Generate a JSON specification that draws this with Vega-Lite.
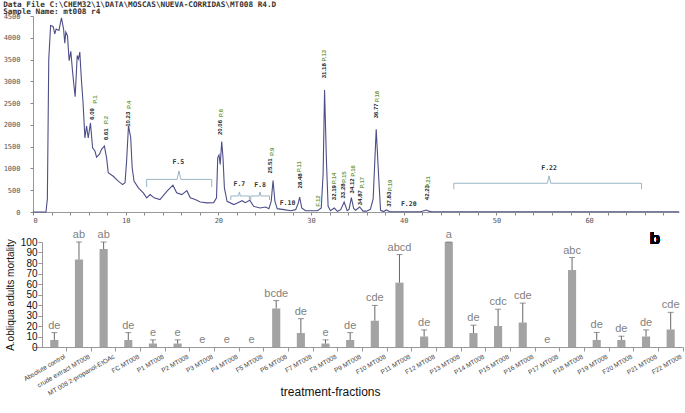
{
  "$schema": "https://vega.github.io/schema/vega-lite/v6.json",
  "padding": {"left": 3, "right": 0, "top": 0, "bottom": 0},
  "columns": 1,
  "align": "none",
  "spacing": 6,
  "config": {"view": {"stroke": null}, "axis": {"grid": false}},
  "datasets": {
    "chrom": [
      {"t":0,"v":0},{"t":1.4,"v":0},{"t":1.55,"v":300},{"t":1.7,"v":3500},{"t":1.9,"v":4280},{"t":2.17,"v":4260},{"t":2.35,"v":4090},{"t":2.5,"v":4200},{"t":2.8,"v":4170},{"t":3.07,"v":4460},{"t":3.3,"v":4200},{"t":3.43,"v":3875},{"t":3.54,"v":4130},{"t":3.72,"v":4050},{"t":3.9,"v":3475},{"t":4.08,"v":3690},{"t":4.26,"v":3245},{"t":4.4,"v":2940},{"t":4.55,"v":2645},{"t":4.77,"v":3590},{"t":4.9,"v":3515},{"t":5.05,"v":3670},{"t":5.23,"v":3015},{"t":5.4,"v":2515},{"t":5.6,"v":1700},{"t":5.78,"v":1975},{"t":5.96,"v":1700},{"t":6.2,"v":2045},{"t":6.43,"v":1475},{"t":6.68,"v":1400},{"t":6.86,"v":1260},{"t":7.15,"v":1320},{"t":7.4,"v":1440},{"t":7.7,"v":1515},{"t":7.94,"v":1245},{"t":8.12,"v":900},{"t":8.66,"v":820},{"t":9.2,"v":710},{"t":9.67,"v":630},{"t":9.93,"v":670},{"t":10.1,"v":1170},{"t":10.3,"v":1975},{"t":10.54,"v":1710},{"t":10.7,"v":1015},{"t":10.9,"v":710},{"t":11.37,"v":555},{"t":11.9,"v":440},{"t":12.27,"v":325},{"t":12.64,"v":400},{"t":13.07,"v":325},{"t":13.7,"v":285},{"t":14.44,"v":475},{"t":15.1,"v":615},{"t":15.5,"v":440},{"t":16.06,"v":400},{"t":16.6,"v":490},{"t":16.97,"v":325},{"t":17.5,"v":285},{"t":18.05,"v":230},{"t":18.77,"v":210},{"t":19.5,"v":215},{"t":19.8,"v":325},{"t":19.93,"v":1245},{"t":20.07,"v":1310},{"t":20.2,"v":1090},{"t":20.36,"v":1615},{"t":20.5,"v":1245},{"t":20.65,"v":555},{"t":20.94,"v":245},{"t":21.66,"v":170},{"t":22.0,"v":200},{"t":22.56,"v":260},{"t":22.9,"v":215},{"t":23.4,"v":270},{"t":23.8,"v":130},{"t":24.5,"v":92},{"t":25.1,"v":115},{"t":25.45,"v":77},{"t":25.7,"v":245},{"t":25.9,"v":723},{"t":26.1,"v":245},{"t":26.35,"v":77},{"t":27.07,"v":54},{"t":27.8,"v":30},{"t":28.34,"v":54},{"t":28.63,"v":208},{"t":28.77,"v":340},{"t":29.0,"v":92},{"t":29.4,"v":30},{"t":30.7,"v":30},{"t":31.1,"v":92},{"t":31.3,"v":860},{"t":31.46,"v":2800},{"t":31.66,"v":1170},{"t":31.84,"v":130},{"t":32.1,"v":30},{"t":32.5,"v":92},{"t":32.85,"v":15},{"t":33.2,"v":54},{"t":33.57,"v":230},{"t":33.9,"v":30},{"t":34.1,"v":60},{"t":34.35,"v":330},{"t":34.6,"v":80},{"t":34.8,"v":40},{"t":35.25,"v":115},{"t":35.6,"v":20},{"t":36.0,"v":20},{"t":36.4,"v":61},{"t":36.7,"v":300},{"t":37.03,"v":1900},{"t":37.3,"v":790},{"t":37.5,"v":40},{"t":37.84,"v":10},{"t":38.13,"v":46},{"t":38.5,"v":5},{"t":41.8,"v":5},{"t":42.2,"v":30},{"t":42.45,"v":46},{"t":42.7,"v":20},{"t":43.0,"v":5},{"t":69.7,"v":5}
    ],
    "braces": [
      {"b":"F.5","o":1,"t":12.26,"v":575},{"b":"F.5","o":2,"t":12.26,"v":748},{"b":"F.5","o":3,"t":15.55,"v":748},{"b":"F.5","o":4,"t":15.75,"v":943},{"b":"F.5","o":5,"t":15.95,"v":748},{"b":"F.5","o":6,"t":19.28,"v":748},{"b":"F.5","o":7,"t":19.28,"v":575},
      {"b":"F.7","o":1,"t":21.34,"v":276},{"b":"F.7","o":2,"t":21.34,"v":368},{"b":"F.7","o":3,"t":22.17,"v":368},{"b":"F.7","o":4,"t":22.27,"v":460},{"b":"F.7","o":5,"t":22.37,"v":368},{"b":"F.7","o":6,"t":23.35,"v":368},{"b":"F.7","o":7,"t":23.35,"v":276},
      {"b":"F.8","o":1,"t":23.5,"v":276},{"b":"F.8","o":2,"t":23.5,"v":368},{"b":"F.8","o":3,"t":24.4,"v":368},{"b":"F.8","o":4,"t":24.5,"v":460},{"b":"F.8","o":5,"t":24.6,"v":368},{"b":"F.8","o":6,"t":25.52,"v":368},{"b":"F.8","o":7,"t":25.52,"v":276},
      {"b":"F.22","o":1,"t":45.4,"v":522},{"b":"F.22","o":2,"t":45.4,"v":660},{"b":"F.22","o":3,"t":55.5,"v":660},{"b":"F.22","o":4,"t":55.68,"v":830},{"b":"F.22","o":5,"t":55.86,"v":660},{"b":"F.22","o":6,"t":65.66,"v":660},{"b":"F.22","o":7,"t":65.66,"v":522}
    ],
    "peaks": [
      {"txt":"6.09","k":"rt","t":6.38,"v":2250},{"txt":"P.1","k":"name","t":6.67,"v":2580},
      {"txt":"6.61","k":"rt","t":7.86,"v":1787},{"txt":"P.2","k":"name","t":7.93,"v":2110},
      {"txt":"10.23","k":"rt","t":10.27,"v":2130},{"txt":"P.4","k":"name","t":10.38,"v":2460},
      {"txt":"20.06","k":"rt","t":20.18,"v":1940},{"txt":"P.6","k":"name","t":20.33,"v":2270},
      {"txt":"25.51","k":"rt","t":25.6,"v":1058},{"txt":"P.9","k":"name","t":25.77,"v":1380},
      {"txt":"28.48","k":"rt","t":28.83,"v":713},{"txt":"P.11","k":"name","t":28.72,"v":1040},
      {"txt":"F.12","k":"name","t":30.7,"v":253},
      {"txt":"31.18","k":"rt","t":31.35,"v":3243},{"txt":"P.13","k":"name","t":31.43,"v":3588},
      {"txt":"32.19","k":"rt","t":32.43,"v":444},{"txt":"P.14","k":"name","t":32.43,"v":770},
      {"txt":"33.28","k":"rt","t":33.5,"v":483},{"txt":"P.15","k":"name","t":33.6,"v":800},
      {"txt":"34.12","k":"rt","t":34.42,"v":598},{"txt":"P.16","k":"name","t":34.53,"v":943},
      {"txt":"34.87","k":"rt","t":35.32,"v":329},{"txt":"P.17","k":"name","t":35.5,"v":674},
      {"txt":"36.77","k":"rt","t":37.05,"v":2323},{"txt":"P.18","k":"name","t":37.12,"v":2650},
      {"txt":"37.83","k":"rt","t":38.38,"v":292},{"txt":"P.19","k":"name","t":38.56,"v":610},
      {"txt":"42.23","k":"rt","t":42.53,"v":444},{"txt":"P.21","k":"name","t":42.6,"v":690}
    ],
    "fractions": [
      {"txt":"F.5","t":15.68,"v":1150},{"txt":"F.7","t":22.27,"v":637},{"txt":"F.8","t":24.5,"v":621},
      {"txt":"F.10","t":27.46,"v":200},{"txt":"F.20","t":40.54,"v":177},{"txt":"F.22","t":55.68,"v":1020}
    ],
    "mortality": [
      {"treatment":"Absolute control","mortality":6.7,"upper":13.7,"group":"de"},
      {"treatment":"crude extract MT008","mortality":83.3,"upper":100,"group":"ab"},
      {"treatment":"MT 008 2-propanol-EtOAc","mortality":93.3,"upper":100,"group":"ab"},
      {"treatment":"FC MT008","mortality":6.7,"upper":13.7,"group":"de"},
      {"treatment":"P1 MT008","mortality":3.3,"upper":6.8,"group":"e"},
      {"treatment":"P2 MT008","mortality":3.3,"upper":6.8,"group":"e"},
      {"treatment":"P3 MT008","mortality":0,"upper":0,"group":"e"},
      {"treatment":"P4 MT008","mortality":0,"upper":0,"group":"e"},
      {"treatment":"F5 MT008","mortality":0,"upper":0,"group":"e"},
      {"treatment":"P6 MT008","mortality":36.7,"upper":44.2,"group":"bcde"},
      {"treatment":"F7 MT008","mortality":13.3,"upper":27,"group":"de"},
      {"treatment":"F8 MT008","mortality":3.3,"upper":6.8,"group":"e"},
      {"treatment":"P9 MT008","mortality":6.7,"upper":13.7,"group":"de"},
      {"treatment":"F10 MT008","mortality":25,"upper":39.6,"group":"cde"},
      {"treatment":"P11 MT008","mortality":61.3,"upper":88,"group":"abcd"},
      {"treatment":"F12 MT008","mortality":10,"upper":16.3,"group":"de"},
      {"treatment":"P13 MT008","mortality":100,"upper":100,"group":"a"},
      {"treatment":"P14 MT008","mortality":13.3,"upper":20.8,"group":"de"},
      {"treatment":"P15 MT008","mortality":20,"upper":36,"group":"cdc"},
      {"treatment":"P16 MT008","mortality":23.3,"upper":41.8,"group":"cde"},
      {"treatment":"P17 MT008","mortality":0,"upper":0,"group":"e"},
      {"treatment":"P18 MT008","mortality":73.3,"upper":85.2,"group":"abc"},
      {"treatment":"P19 MT008","mortality":6.7,"upper":13.9,"group":"de"},
      {"treatment":"F20 MT008","mortality":6.7,"upper":10.3,"group":"de"},
      {"treatment":"P21 MT008","mortality":10,"upper":16.3,"group":"de"},
      {"treatment":"F22 MT008","mortality":16.7,"upper":33,"group":"cde"}
    ]
  },
  "concat": [
    {
      "width": 646,
      "height": 196,
      "title": {
        "text": "Data File C:\\CHEM32\\1\\DATA\\MOSCAS\\NUEVA-CORRIDAS\\MT008 R4.D",
        "subtitle": "Sample Name: mt008 r4",
        "anchor": "start",
        "frame": "bounds",
        "offset": -4,
        "font": "DejaVu Sans Mono",
        "fontSize": 7.7,
        "fontWeight": "bold",
        "color": "#333333",
        "subtitleFont": "DejaVu Sans Mono",
        "subtitleFontSize": 7.7,
        "subtitleFontWeight": "bold",
        "subtitleColor": "#333333",
        "subtitlePadding": 0
      },
      "layer": [
        {
          "data": {"name": "chrom"},
          "mark": {"type": "line", "color": "#4e4e88", "strokeWidth": 1.1},
          "encoding": {
            "x": {"field": "t", "type": "quantitative",
              "scale": {"domain": [0, 69.7], "nice": false, "zero": false},
              "axis": {"title": null, "tickCount": 100, "values": [0,2,4,6,8,10,12,14,16,18,20,22,24,26,28,30,32,34,36,38,40,42,44,46,48,50,52,54,56,58,60,62,64,66,68],
                "format": "d", "labelExpr": "datum.value % 10 == 0 ? datum.label : ''", "labelOverlap": false,
                "labelFont": "DejaVu Sans Mono", "labelFontSize": 7, "labelColor": "#555555",
                "tickSize": 3, "tickColor": "#888888", "domainColor": "#999999", "labelPadding": 1}},
            "y": {"field": "v", "type": "quantitative",
              "scale": {"domain": [0, 4500], "nice": false},
              "axis": {"title": null, "tickCount": 100, "values": [0,500,1000,1500,2000,2500,3000,3500,4000,4500], "format": "d", "labelOverlap": false,
                "labelFont": "DejaVu Sans Mono", "labelFontSize": 7, "labelColor": "#555555",
                "tickSize": 3, "tickColor": "#888888", "domainColor": "#999999", "labelPadding": 10}}
          }
        },
        {
          "data": {"name": "braces"},
          "mark": {"type": "line", "color": "#9ab4c6", "strokeWidth": 1},
          "encoding": {
            "x": {"field": "t", "type": "quantitative"},
            "y": {"field": "v", "type": "quantitative"},
            "detail": {"field": "b"},
            "order": {"field": "o"}
          }
        },
        {
          "mark": {"type": "rule", "color": "#999999", "strokeWidth": 1},
          "encoding": {"x": {"datum": 69.7}}
        },
        {
          "data": {"name": "peaks"},
          "mark": {"type": "text", "angle": 270, "font": "Liberation Sans", "fontSize": 6, "fontWeight": "bold", "align": "center", "baseline": "middle"},
          "encoding": {
            "x": {"field": "t", "type": "quantitative"},
            "y": {"field": "v", "type": "quantitative"},
            "text": {"field": "txt"},
            "color": {"field": "k", "type": "nominal", "scale": {"domain": ["rt", "name"], "range": ["#1a1a1a", "#6f9a3f"]}, "legend": null}
          }
        },
        {
          "data": {"name": "fractions"},
          "mark": {"type": "text", "font": "DejaVu Sans Mono", "fontSize": 6.5, "fontWeight": "bold", "color": "#333333", "align": "center", "baseline": "middle"},
          "encoding": {
            "x": {"field": "t", "type": "quantitative"},
            "y": {"field": "v", "type": "quantitative"},
            "text": {"field": "txt"}
          }
        },
        {
          "mark": {"type": "text", "angle": 270, "font": "Liberation Sans", "fontSize": 10, "fontWeight": "bold", "color": "#111111", "align": "center", "baseline": "middle"},
          "encoding": {
            "x": {"datum": 3.6},
            "y": {"datum": 828},
            "text": {"value": "FC"}
          }
        },
        {
          "mark": {"type": "text", "font": "Liberation Sans", "fontSize": 19, "fontWeight": "bold", "color": "#000000", "align": "center", "baseline": "middle"},
          "encoding": {
            "x": {"datum": 66.67},
            "y": {"datum": 4267},
            "text": {"value": "a"}
          }
        }
      ]
    },
    {
      "width": 650,
      "height": 105,
      "data": {"name": "mortality"},
      "encoding": {
        "x": {"field": "treatment", "type": "nominal", "sort": null,
          "scale": {"paddingInner": 0, "paddingOuter": 0.1826, "align": 1},
          "axis": {"title": "treatment-fractions", "titleFont": "Liberation Sans", "titleFontSize": 12, "titleFontWeight": "normal", "titleColor": "#111111",
            "titleX": 297, "titleY": 44, "titleBaseline": "middle",
            "labelAngle": -30, "labelAlign": "right", "labelBaseline": "top", "labelFont": "Liberation Sans", "labelFontSize": 6.5, "labelColor": "#404040",
            "labelOverlap": false, "labelLimit": 0,
            "bandPosition": 1, "labelOffset": 9, "tickSize": 4, "tickColor": "#999999", "domainColor": "#999999", "labelPadding": 2}}
      },
      "layer": [
        {
          "mark": {"type": "bar", "color": "#a3a3a3", "width": {"band": 0.33}},
          "encoding": {
            "y": {"field": "mortality", "type": "quantitative",
              "scale": {"domain": [0, 100], "nice": false},
              "axis": {"title": "A.obliqua adults mortality", "titleFont": "Liberation Sans", "titleFontSize": 10, "titleFontWeight": "normal", "titleColor": "#111111", "titlePadding": 5,
                "offset": -9,
                "tickCount": 100, "values": [0,10,20,30,40,50,60,70,80,90,100], "labelOverlap": false, "labelFont": "Liberation Sans", "labelFontSize": 10, "labelColor": "#111111",
                "tickSize": 4, "tickColor": "#999999", "domainColor": "#999999", "labelPadding": 1}}
          }
        },
        {
          "transform": [{"filter": "datum.mortality > 0"}],
          "mark": {"type": "rule", "color": "#666666", "strokeWidth": 1},
          "encoding": {
            "y": {"field": "mortality", "type": "quantitative"},
            "y2": {"field": "upper"}
          }
        },
        {
          "transform": [{"filter": "datum.mortality > 0"}],
          "mark": {"type": "tick", "color": "#666666", "size": 6, "thickness": 1, "orient": "horizontal"},
          "encoding": {
            "y": {"field": "upper", "type": "quantitative"}
          }
        },
        {
          "mark": {"type": "text", "baseline": "bottom", "dy": -2, "font": "Liberation Sans", "fontSize": 11, "color": "#7f7f7f"},
          "encoding": {
            "y": {"field": "upper", "type": "quantitative"},
            "text": {"field": "group"}
          }
        },
        {
          "mark": {"type": "text", "font": "Liberation Sans", "fontSize": 17, "fontWeight": "bold", "color": "#000000", "dx": 9, "baseline": "middle"},
          "encoding": {
            "x": {"datum": "P21 MT008"},
            "y": {"datum": 103},
            "text": {"value": "b"}
          }
        }
      ]
    }
  ]
}
